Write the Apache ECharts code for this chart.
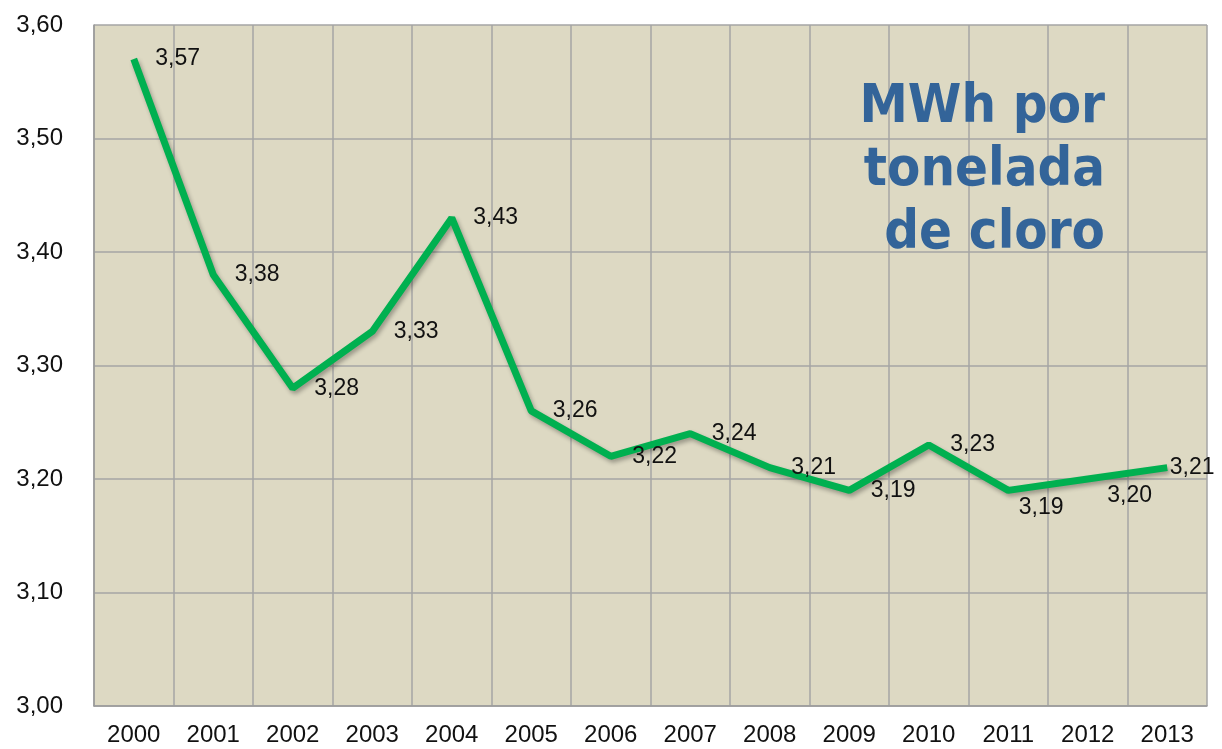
<!DOCTYPE html>
<html>
<head>
<meta charset="utf-8">
<script src="https://cdn.jsdelivr.net/npm/echarts@6/dist/echarts.min.js"></script>
<style>
  html, body { margin: 0; padding: 0; background: #fff; }
  #main { width: 1222px; height: 749px; }
</style>
</head>
<body>
<div id="main"></div>
<script>
// datos
var years = ['2000', '2001', '2002', '2003', '2004', '2005', '2006', '2007', '2008', '2009', '2010', '2011', '2012', '2013'];
var mwhPorTonelada = [3.57, 3.38, 3.28, 3.33, 3.43, 3.26, 3.22, 3.24, 3.21, 3.19, 3.23, 3.19, 3.20, 3.21];

function coma(v) {
  return Number(v).toFixed(2).replace('.', ',');
}

// etiquetas: casi todas a la derecha, las ultimas desplazadas
var labelOffsets = {
  11: [-11, 17],
  12: [-2, 17],
  13: [-19, 0]
};

var seriesData = mwhPorTonelada.map(function (v, i) {
  var item = { value: v };
  if (labelOffsets[i]) {
    item.label = { offset: labelOffsets[i] };
  }
  return item;
});

var chart = echarts.init(document.getElementById('main'));
var option = {
  animation: false,
  grid: {
    left: 94,
    right: 15,
    top: 25,
    bottom: 43,
    show: true,
    backgroundColor: '#ddd9c3',
    borderWidth: 0
  },
  graphic: [{
    type: 'text',
    right: 117,
    top: 76,
    z: 10,
    style: {
      text: 'MWh por\ntonelada\nde cloro',
      fill: '#336499',
      font: 'bold 54px "DejaVu Sans Condensed", "DejaVu Sans"',
      lineHeight: 63,
      textAlign: 'right'
    }
  }],
  xAxis: {
    type: 'category',
    data: years,
    boundaryGap: true,
    axisLine: { lineStyle: { color: '#9a9a9a', width: 1.5 } },
    axisTick: { show: false },
    axisLabel: {
      color: '#111',
      fontSize: 24,
      fontFamily: 'Liberation Sans, Arial',
      margin: 17
    },
    splitLine: { show: true, lineStyle: { color: '#a5a5a5', width: 1.5 } }
  },
  yAxis: {
    type: 'value',
    min: 3,
    max: 3.6,
    interval: 0.1,
    axisLine: { show: true, lineStyle: { color: '#9a9a9a', width: 1.5 } },
    axisTick: { show: false },
    axisLabel: {
      color: '#111',
      fontSize: 24,
      fontFamily: 'Liberation Sans, Arial',
      margin: 31,
      formatter: coma
    },
    splitLine: { show: true, lineStyle: { color: '#a5a5a5', width: 1.5 } }
  },
  series: [{
    type: 'line',
    data: seriesData,
    symbol: 'circle',
    symbolSize: 1,
    showSymbol: true,
    itemStyle: { color: 'transparent', borderWidth: 0 },
    lineStyle: {
      color: '#00b050',
      width: 7,
      shadowColor: 'rgba(0,0,0,0.3)',
      shadowBlur: 4,
      shadowOffsetX: 2,
      shadowOffsetY: 3
    },
    label: {
      show: true,
      position: 'right',
      distance: 21,
      color: '#111',
      fontSize: 23,
      fontFamily: 'Liberation Sans, Arial',
      formatter: function (p) { return coma(p.value); }
    }
  }]
};
chart.setOption(option);
</script>
</body>
</html>
